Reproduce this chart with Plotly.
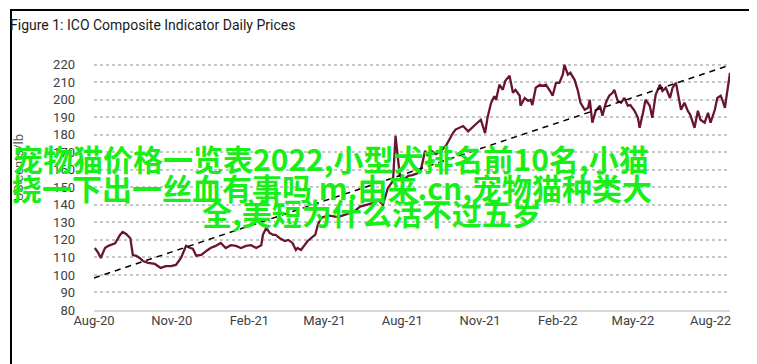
import plotly.graph_objects as go

# ---- data ----
dates = [
 "2020-08-02","2020-08-06","2020-08-09","2020-08-14","2020-08-18","2020-08-21","2020-08-26",
 "2020-09-01","2020-09-04","2020-09-08","2020-09-13","2020-09-16","2020-09-20","2020-09-24","2020-09-28",
 "2020-10-04","2020-10-12","2020-10-19","2020-10-25","2020-10-31",
 "2020-11-06","2020-11-12","2020-11-18","2020-11-23","2020-11-26","2020-11-30",
 "2020-12-06","2020-12-12","2020-12-17","2020-12-23","2020-12-29",
 "2021-01-04","2021-01-10","2021-01-16","2021-01-22","2021-01-28",
 "2021-02-03","2021-02-09","2021-02-15","2021-02-17","2021-02-21","2021-02-25",
 "2021-03-01","2021-03-04","2021-03-09","2021-03-15","2021-03-19","2021-03-24","2021-03-28","2021-03-30",
 "2021-04-03","2021-04-11","2021-04-20","2021-04-23","2021-04-27",
 "2021-05-05","2021-05-17","2021-05-29",
 "2021-06-06","2021-06-12","2021-06-19","2021-06-27",
 "2021-07-03","2021-07-09","2021-07-15","2021-07-21","2021-07-24","2021-07-29",
 "2021-08-02","2021-08-08","2021-08-13","2021-08-19","2021-08-23","2021-08-28","2021-08-31",
 "2021-09-04","2021-09-10","2021-09-16","2021-09-22","2021-09-26","2021-09-30",
 "2021-10-03","2021-10-08","2021-10-12","2021-10-18","2021-10-23","2021-10-29",
 "2021-11-02","2021-11-07","2021-11-10","2021-11-14","2021-11-18","2021-11-20","2021-11-24","2021-11-28",
 "2021-12-01","2021-12-06","2021-12-10","2021-12-13","2021-12-18","2021-12-19","2021-12-24","2021-12-28","2021-12-31",
 "2022-01-02","2022-01-06","2022-01-11","2022-01-14","2022-01-18","2022-01-23","2022-01-26","2022-01-30",
 "2022-02-03","2022-02-07","2022-02-09","2022-02-13","2022-02-16","2022-02-21","2022-02-25","2022-02-28",
 "2022-03-05","2022-03-09","2022-03-11","2022-03-14","2022-03-18","2022-03-23","2022-03-26","2022-03-30",
 "2022-04-03","2022-04-07","2022-04-09","2022-04-13","2022-04-17","2022-04-21","2022-04-25","2022-04-28",
 "2022-05-03","2022-05-07","2022-05-09","2022-05-13","2022-05-16","2022-05-21","2022-05-24","2022-05-28",
 "2022-06-02","2022-06-05","2022-06-09","2022-06-14","2022-06-17","2022-06-21","2022-06-25","2022-06-27",
 "2022-07-01","2022-07-05","2022-07-08","2022-07-13","2022-07-17","2022-07-20","2022-07-25","2022-07-29",
 "2022-08-01","2022-08-06","2022-08-09","2022-08-13","2022-08-15","2022-08-18","2022-08-20","2022-08-24",
]
prices = [
 115.4,112.6,109.7,115.4,116.6,117.0,118.0,
 123.0,124.6,123.4,121.0,111.4,110.9,109.7,108.0,
 106.9,106.3,104.0,105.0,105.0,
 105.7,109.7,116.6,115.4,115.0,111.0,
 111.4,113.7,115.4,116.6,118.3,
 115.4,117.0,116.6,115.4,116.6,
 117.0,115.4,117.0,122.9,126.9,124.0,
 122.9,122.9,121.0,119.4,120.0,118.3,114.3,115.4,
 114.3,119.4,123.0,128.6,132.6,
 134.0,133.0,135.0,
 136.6,139.0,140.0,141.0,
 142.9,140.0,149.7,153.7,179.4,157.0,
 154.0,156.6,157.0,158.0,160.0,170.9,168.0,
 171.0,169.0,171.0,174.0,178.0,181.0,
 183.0,184.0,185.0,182.0,184.0,186.9,
 188.6,181.0,190.0,198.0,202.0,200.0,208.6,205.7,
 210.9,213.7,204.0,205.7,202.3,196.6,201.0,199.4,200.0,
 197.0,206.9,208.6,208.0,208.6,205.0,202.3,209.7,
 209.7,214.3,220.0,214.3,215.4,211.4,205.0,198.3,
 194.3,195.4,200.0,186.9,193.7,196.6,190.9,198.3,
 202.3,204.0,205.7,199.4,198.3,201.0,196.6,197.0,
 193.7,189.7,184.0,192.6,200.0,196.6,189.7,202.9,
 208.6,205.0,206.9,201.0,206.9,209.7,199.4,194.3,
 198.3,193.7,191.4,184.0,193.7,188.6,186.9,192.6,
 186.9,194.3,201.0,202.3,200.0,195.4,202.3,215.4,
]
trend_dates = ["2020-08-01", "2022-08-24"]
trend_values = [98.3, 219.8]

tick_dates = ["2020-08-01","2020-11-01","2021-02-01","2021-05-01","2021-08-01",
              "2021-11-01","2022-02-01","2022-05-01","2022-08-01"]
tick_labels = ["Aug-20","Nov-20","Feb-21","May-21","Aug-21",
               "Nov-21","Feb-22","May-22","Aug-22"]
y_ticks = [80, 90, 100, 110, 120, 130, 140, 150, 160, 170, 180, 190, 200, 210, 220]

title_text = "Figure 1: ICO Composite Indicator Daily Prices"
y_title = "US cents/lb"
overlay_lines = ["宠物猫价格一览表2022,小型犬排名前10名,小猫",
                 "挠一下出一丝血有事吗 m.由来.cn,宠物猫种类大",
                 "全,美短为什么活不过五岁"]

fig = go.Figure()
fig.add_trace(go.Scatter(x=dates, y=prices, mode="lines",
                         line=dict(color="#6b1430", width=2.3), showlegend=False))
fig.add_trace(go.Scatter(x=trend_dates, y=trend_values, mode="lines",
                         line=dict(color="#000000", width=1.5, dash="6px,5px"), showlegend=False))

font_main = "Roboto, 'Noto Sans', sans-serif"
fig.update_layout(
    width=757, height=364,
    margin=dict(l=86, r=35, t=55, b=62, autoexpand=False),
    paper_bgcolor="white", plot_bgcolor="white",
    font=dict(family=font_main, color="#404040", size=13),
    xaxis=dict(type="date", range=["2020-08-01", "2022-08-24"],
               tickvals=tick_dates, ticktext=tick_labels,
               showgrid=False, zeroline=False,
               showline=True, linecolor="#d9d9d9", linewidth=2,
               ticks="", ticklabelstandoff=-3,
               tickfont=dict(size=13, color="#404040"), automargin=False),
    yaxis=dict(range=[80, 221], tickvals=y_ticks,
               showgrid=True, gridcolor="#c6c6c6", gridwidth=1.5, griddash="dot",
               zeroline=False, showline=False, ticks="", ticklabelstandoff=18,
               tickfont=dict(size=13, color="#404040"), automargin=False),
)

fig.add_annotation(text=title_text, xref="paper", yref="paper",
                   x=(0 - 86) / 636, y=(302 - 17) / 247, xanchor="left", yanchor="middle",
                   showarrow=False, font=dict(size=14, color="#1a1a1a", family=font_main))
fig.add_annotation(text=y_title, xref="paper", yref="paper",
                   x=(10 - 86) / 636, y=(302 - 160) / 247, xanchor="center", yanchor="middle",
                   textangle=-90, showarrow=False, font=dict(size=13, color="#595959"))

green = "#19ee19"
cjk = "'Noto Sans CJK SC', sans-serif"
for txt, cx, cy in zip(overlay_lines, [323, 324, 364], [150, 179, 204]):
    fig.add_annotation(text=txt, xref="paper", yref="paper",
                       x=(cx - 86) / 636, y=(302 - cy) / 247, xanchor="center", yanchor="middle",
                       showarrow=False, font=dict(size=30, color=green, family=cjk, weight="bold"))

# outer border
fig.add_shape(type="rect", xref="paper", yref="paper",
              x0=(3 - 86) / 636, x1=(753 - 86) / 636,
              y0=(302 - 359) / 247, y1=(302 - 2) / 247,
              line=dict(color="#000000", width=2))

fig.write_html("out.html")
